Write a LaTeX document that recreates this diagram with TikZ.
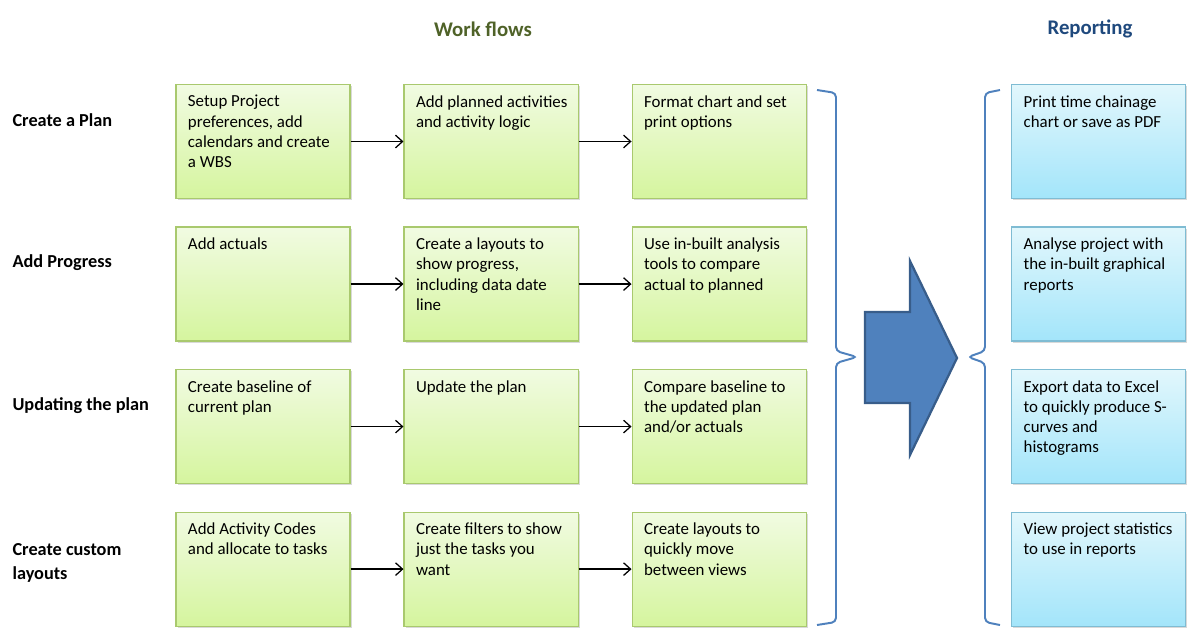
\documentclass[tikz,border=0pt]{standalone}
\usepackage{fontspec}
\setmainfont{Carlito}
\usetikzlibrary{positioning,shadows,arrows.meta}

\definecolor{flowhead}{HTML}{4F6228}
\definecolor{rephead}{HTML}{1F497D}
\definecolor{greenedge}{HTML}{A9C96E}
\definecolor{greentop}{HTML}{F1FBE2}
\definecolor{greenbot}{HTML}{D5F59E}
\definecolor{blueedge}{HTML}{7FBCD3}
\definecolor{bluetop}{HTML}{E2F7FC}
\definecolor{bluebot}{HTML}{A3E5FA}
\definecolor{bracecol}{HTML}{4F81BD}
\definecolor{bigarrow}{HTML}{4F81BD}
\definecolor{bigarrowedge}{HTML}{385D8A}

\newcommand{\boxtxt}[1]{\parbox[c][2.31cm][t]{3.95cm}{\raggedright\leftskip=0.1cm #1}}

\begin{document}
\begin{tikzpicture}[%
    x=0.025cm, y=-0.025cm,
    >={Straight Barb[length=5pt,width=9pt]},
    node distance=3.5625cm and 5.7cm,
    on grid,
    wfbox/.style={draw=greenedge, line width=0.8pt, top color=greentop, bottom color=greenbot,
      minimum width=4.35cm, minimum height=2.85cm, inner xsep=0.2cm, inner ysep=0.27cm,
      font=\fontsize{12}{14.4}\selectfont,
      drop shadow={shadow xshift=1.2pt, shadow yshift=-1.2pt, opacity=0.3}},
    repbox/.style={wfbox, draw=blueedge, top color=bluetop, bottom color=bluebot},
    rowlabel/.style={anchor=west, align=left, inner sep=0pt, font=\fontsize{13}{17}\selectfont\bfseries},
    heading/.style={font=\fontsize{14.8}{17}\selectfont\bfseries},
    brace/.style={draw=bracecol, line width=1.4pt, rounded corners=3pt},
    thick
  ]
    \useasboundingbox (0,0) rectangle (1199,639);

    % headings
    \node[heading, text=flowhead] (hflow) at (483,29) {Work flows};
    \node[heading, text=rephead] (hrep) at (1090,29) {Reporting};

    % row labels
    \node[rowlabel] (lplan) at (12,120) {Create a Plan};
    \node[rowlabel] (lprog) at (12,263) {Add Progress};
    \node[rowlabel] (lupd)  at (12,406) {Updating the plan};
    \node[rowlabel] (lcust) at (12,563) {Create custom\\layouts};

    % work flow boxes
    \node[wfbox] (W11) at (263,141.5) {\boxtxt{Setup Project\\preferences, add\\calendars and create\\a WBS}};
    \node[wfbox] (W12) [right=of W11] {\boxtxt{Add planned activities\\and activity logic}};
    \node[wfbox] (W13) [right=of W12] {\boxtxt{Format chart and set\\print options}};

    \node[wfbox] (W21) [below=of W11] {\boxtxt{Add actuals}};
    \node[wfbox] (W22) [right=of W21] {\boxtxt{Create a layouts to\\show progress,\\including data date\\line}};
    \node[wfbox] (W23) [right=of W22] {\boxtxt{Use in-built analysis\\tools to compare\\actual to planned}};

    \node[wfbox] (W31) [below=of W21] {\boxtxt{Create baseline of\\current plan}};
    \node[wfbox] (W32) [right=of W31] {\boxtxt{Update the plan}};
    \node[wfbox] (W33) [right=of W32] {\boxtxt{Compare baseline to\\the updated plan\\and/or actuals}};

    \node[wfbox] (W41) [below=of W31] {\boxtxt{Add Activity Codes\\and allocate to tasks}};
    \node[wfbox] (W42) [right=of W41] {\boxtxt{Create filters to show\\just the tasks you\\want}};
    \node[wfbox] (W43) [right=of W42] {\boxtxt{Create layouts to\\quickly move\\between views}};

    % reporting boxes
    \node[repbox] (R1) [right=9.4875cm of W13] {\boxtxt{Print time chainage\\chart or save as PDF}};
    \node[repbox] (R2) [below=of R1] {\boxtxt{Analyse project with\\the in-built graphical\\reports}};
    \node[repbox] (R3) [below=of R2] {\boxtxt{Export data to Excel\\to quickly produce S-\\curves and\\histograms}};
    \node[repbox] (R4) [below=of R3] {\boxtxt{View project statistics\\to use in reports}};

    \path[->, line width=0.9pt]
      (W11) edge (W12)  (W12) edge (W13)
      (W21) edge (W22)  (W22) edge (W23)
      (W31) edge (W32)  (W32) edge (W33)
      (W41) edge (W42)  (W42) edge (W43);

    % braces
    \draw[brace] (817,90) -- (836,93) -- (836,351) -- (857,357) -- (836,363) -- (836,622) -- (817,625);
    \draw[brace] (1000,90) -- (985,93) -- (985,351) -- (968,357) -- (985,363) -- (985,622) -- (1000,625);

    % big arrow
    \draw[fill=bigarrow, draw=bigarrowedge, line width=1.6pt]
      (865,312) -- (910,312) -- (910,261) -- (957,358) -- (910,455) -- (910,403) -- (865,403) -- cycle;
  \end{tikzpicture}
\end{document}
